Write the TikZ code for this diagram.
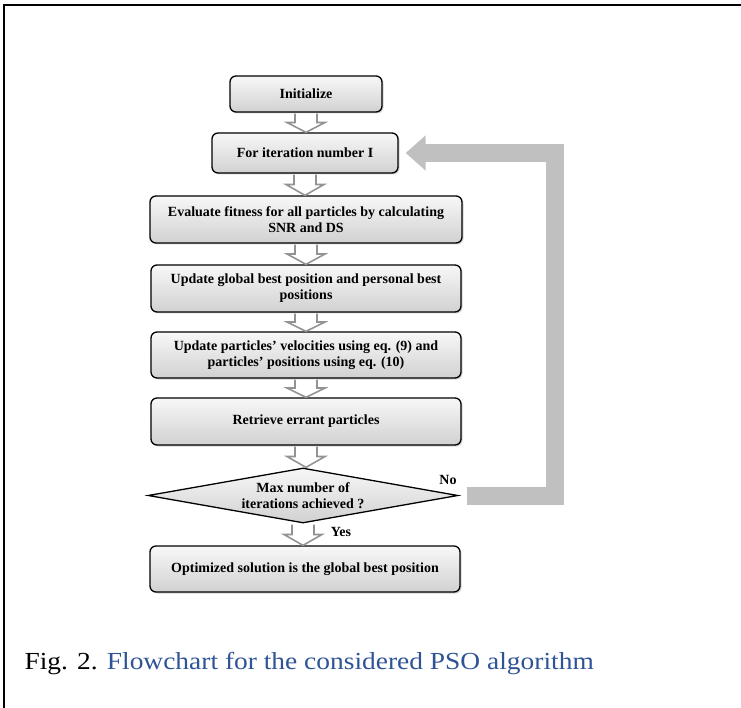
\documentclass[tikz,border=0pt]{standalone}
\usepackage{fontspec}
\setmainfont{Liberation Serif}
\newfontfamily\capfont[FakeStretch=1.12]{Liberation Serif}
\usetikzlibrary{shapes.geometric,shadows,calc,arrows.meta}
\definecolor{capblue}{RGB}{47,84,150}
\definecolor{bandgray}{RGB}{192,192,192}

\newcommand{\flowarrow}[2]{%
  \filldraw[hollow] let \p1=(#1.south), \p2=(#2.north), \n1={0.5*(\y1+\y2)} in
    (\x1-11pt,\y1-1pt) -- (\x1-11pt,\n1) -- (\x1-19pt,\n1) -- (\x1,\y2)
    -- (\x1+19pt,\n1) -- (\x1+11pt,\n1) -- (\x1+11pt,\y1-1pt);}

\begin{document}
\begin{tikzpicture}[x=1pt,y=-1pt,
    every node/.style={font=\fontsize{14}{16}\selectfont\bfseries},
    stepbox/.style={draw=black,line width=1.3pt,rounded corners=6pt,
      top color=gray!6,bottom color=gray!36,align=center,inner sep=0pt,
      drop shadow={opacity=0.35,shadow xshift=1.5pt,shadow yshift=-1.5pt}},
    test/.style={diamond,draw=black,line width=1.3pt,top color=gray!6,
      bottom color=gray!36,align=center,inner sep=0pt,aspect=5.6,
      minimum width=310pt,minimum height=55pt},
    hollow/.style={draw=gray!85,fill=white,line width=1.6pt,line join=miter},
    loopband/.style={draw=bandgray,line width=18pt,
      -{Triangle[length=20pt,width=34pt]}}]
  \useasboundingbox (0,0) rectangle (741,708);
  \draw[line width=2.2pt] (4,708) -- (4,5) -- (741,5);
  \draw
    (306,94) node[stepbox,minimum width=152pt,minimum height=36pt] (init){Initialize}
    (305,153) node[stepbox,minimum width=186pt,minimum height=40pt] (iter){For iteration number I}
    (306,219.5) node[stepbox,minimum width=312pt,minimum height=47pt] (eval){Evaluate fitness for all particles by calculating\\SNR and DS}
    (306,288.5) node[stepbox,minimum width=310pt,minimum height=47pt] (update){Update\ global best position and personal best\\positions}
    (306,355) node[stepbox,minimum width=310pt,minimum height=46pt] (velocity){Update\ particles' velocities using eq. (9) and\\particles' positions using eq. (10)}
    (306,421.5) node[stepbox,minimum width=310pt,minimum height=47pt] (retrieve){Retrieve errant particles}
    (303,495.5) node[test] (check){Max number of\\iterations achieved ?}
    (305,569) node[stepbox,minimum width=310pt,minimum height=46pt] (result){Optimized solution is the global best position};
  \node (nolabel) at (448,480) {No};
  \node (yeslabel) at (341,532) {Yes};
  \coordinate (loopstart) at ($(check.east)+(8,0)$);
  \coordinate (loopend) at ($(iter.east)+(7,0)$);
  \begin{scope}
    \flowarrow{init}{iter}
    \flowarrow{iter}{eval}
    \flowarrow{eval}{update}
    \flowarrow{update}{velocity}
    \flowarrow{velocity}{retrieve}
    \flowarrow{retrieve}{check}
    \flowarrow{check}{result}
    \draw[loopband] (loopstart) -- ++(88,0) |- (loopend);
  \end{scope}
  \node[anchor=base west,font=\fontsize{24.5}{28}\selectfont\capfont] (caption) at (21,669)
    {Fig. 2. \textcolor{capblue}{Flowchart for the considered PSO algorithm}};
\end{tikzpicture}
\end{document}
